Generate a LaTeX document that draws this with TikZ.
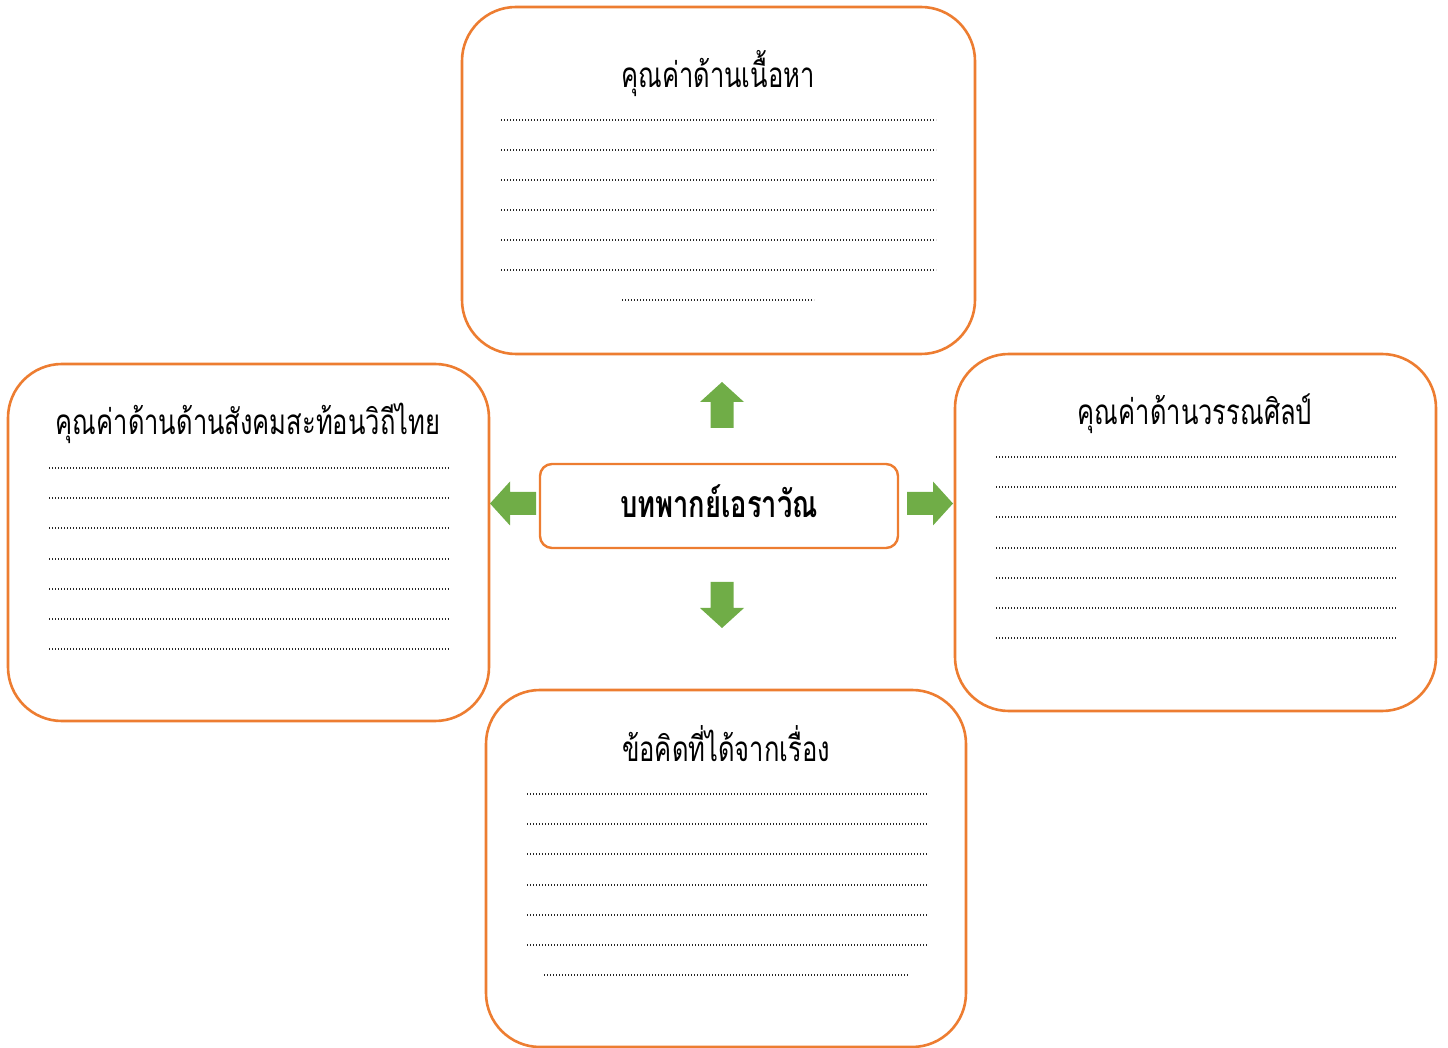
\documentclass[tikz,border=0pt]{standalone}
\usepackage{fontspec}
\newfontfamily\thaifont[Script=Thai, FakeStretch=0.73]{Loma}
\usetikzlibrary{positioning}
\definecolor{boxorange}{RGB}{237,125,49}
\definecolor{arrowgreen}{RGB}{112,173,71}
\tikzset{
  valuebox/.style={draw=boxorange, line width=1.3pt, rounded corners=27pt, fill=white, inner sep=0pt},
  topicbox/.style={draw=boxorange, line width=1.2pt, rounded corners=6pt, fill=white,
    minimum width=179pt, minimum height=42pt},
  heading/.style={font=\thaifont\fontsize{17.5}{20}\selectfont, inner sep=0pt, anchor=base},
  topic/.style={font=\thaifont\bfseries\fontsize{18.7}{21}\selectfont, inner sep=0pt, anchor=base},
  writeline/.style={line width=1pt, dash pattern=on 0.6pt off 0.9pt, color=black!85},
  blockarrow/.style={fill=arrowgreen}
}

\begin{document}
\begin{tikzpicture}[x=0.5pt, y=-0.5pt]
\useasboundingbox (0,0) rectangle (1448,1048);

\node [valuebox, minimum width=256.5pt, minimum height=173.5pt] (content) at (718.5,180.5) {};
\node [valuebox, minimum width=240.5pt, minimum height=178.5pt] (social) at (248.5,542.5) {};
\node [valuebox, minimum width=240.5pt, minimum height=178.5pt] (literary) at (1195.5,532.5) {};
\node [valuebox, minimum width=240pt, minimum height=178.5pt] (lesson) at (726,868.5) {};
\node [topicbox] (story) at (719,506) {};

\node [heading] (content-title) at (718,88) {คุณค่าด้านเนื้อหา};
\node [heading] (social-title) at (248,435) {คุณค่าด้านด้านสังคมสะท้อนวิถีไทย};
\node [heading] (literary-title) at (1195,425) {คุณค่าด้านวรรณศิลป์};
\node [heading] (lesson-title) at (726,762) {ข้อคิดที่ได้จากเรื่อง};
\node [topic] (story-title) at (719,518) {บทพากย์เอราวัณ};

\foreach \k in {0,...,5}
  \draw [writeline] (501,120+30*\k) -- (936,120+30*\k);
\draw [writeline] (622,300) -- (814,300);

\foreach \k in {0,...,6}
  \draw [writeline] (49,468+30.2*\k) -- (449,468+30.2*\k);

\foreach \k in {0,...,6}
  \draw [writeline] (996,457+30.2*\k) -- (1397,457+30.2*\k);

\foreach \k in {0,...,5}
  \draw [writeline] (527,794+30.2*\k) -- (927,794+30.2*\k);
\draw [writeline] (544,975) -- (909,975);

\foreach \px/\py/\ang in {722/428/90, 722/582/-90, 536/503.5/180, 907/503.5/0}
  \fill [blockarrow, shift={(\px,\py)}, rotate=\ang]
    (0,-11.5) -- (26,-11.5) -- (26,-22) -- (46,0) -- (26,22) -- (26,11.5) -- (0,11.5) -- cycle;
\end{tikzpicture}
\end{document}
